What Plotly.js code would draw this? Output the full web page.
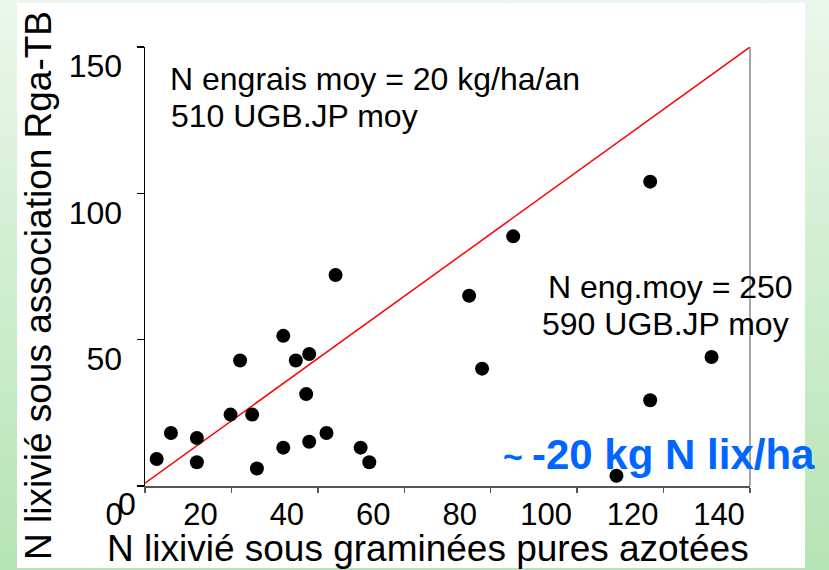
<!DOCTYPE html>
<html>
<head>
<meta charset="utf-8">
<script src="https://cdn.plot.ly/plotly-3.0.1.min.js"></script>
<style>
  html, body { margin: 0; padding: 0; }
  body {
    width: 829px; height: 570px; overflow: hidden; position: relative;
    background: linear-gradient(to bottom, #ecf7ec 0%, #d2eed2 45%, #b6e4b6 100%);
  }
  #panel { position: absolute; left: 17px; top: 3px; width: 788px; height: 565px; background: #ffffff; }
  #chart { position: absolute; left: 0; top: 0; width: 829px; height: 570px; }
</style>
</head>
<body>
<div id="panel"></div>
<div id="chart"></div>
<script>
// Data
const nGraminees = [2.7, 6.0, 12.0, 12.0, 19.8, 22.0, 24.8, 25.9, 32.0, 32.0, 34.9, 37.3, 38.0, 38.0, 42.0, 44.1, 49.9, 51.9, 75.0, 78.0, 85.2, 109.1, 116.9, 116.9, 131.1];
const nAssociation = [9.2, 18.1, 16.4, 8.1, 24.4, 42.9, 24.4, 6.0, 51.3, 13.1, 42.9, 31.4, 45.1, 15.1, 18.1, 72.1, 13.1, 8.1, 65.0, 40.1, 85.3, 3.5, 104.0, 29.3, 44.1];
const refLineX = [0, 140];
const refLineY = [1, 150];
const xTicks = [0, 20, 40, 60, 80, 100, 120, 140];
const yTicks = [0, 50, 100, 150];
const yTickText = ['', '50', '100', '150'];   // the "0" of the y axis is drawn as a separate label

const FONT = 'Liberation Sans, Arial, sans-serif';
const L = 145, R = 750, T = 47, B = 486, W = 829, H = 570;
const px = p => (p - L) / (R - L);
const py = p => (B - p) / (B - T);

const traces = [
  { x: refLineX, y: refLineY, type: 'scatter', mode: 'lines',
    line: { color: '#ff0000', width: 1.5 }, hoverinfo: 'skip', showlegend: false },
  { x: nGraminees, y: nAssociation, type: 'scatter', mode: 'markers',
    marker: { color: '#000000', size: 14, symbol: 'circle' }, showlegend: false }
];

const ann = (text, x, y, xa, ya, size, extra) => Object.assign({
  text: text, xref: 'paper', yref: 'paper', x: px(x), y: py(y),
  xanchor: xa, yanchor: ya, showarrow: false,
  font: { family: FONT, size: size, color: '#000000' }
}, extra || {});

const layout = {
  width: W, height: H,
  margin: { l: L, r: W - R, t: T, b: H - B, pad: 0 },
  paper_bgcolor: 'rgba(0,0,0,0)',
  plot_bgcolor: '#ffffff',
  showlegend: false,
  xaxis: {
    range: [0, 140], tickvals: xTicks, ticktext: xTicks.map(String),
    showgrid: false, zeroline: false, showline: true, linecolor: '#555555', linewidth: 1.5,
    ticks: 'outside', ticklen: 5, tickcolor: '#555555', tickwidth: 1.5,
    tickfont: { family: FONT, size: 31, color: '#000000' },
    ticklabelshift: -31, ticklabelstandoff: -5, fixedrange: true
  },
  yaxis: {
    range: [0, 150], tickvals: yTicks, ticktext: yTickText,
    showgrid: false, zeroline: false, showline: true, linecolor: '#000000', linewidth: 1.5,
    ticks: 'outside', ticklen: 7, tickcolor: '#000000', tickwidth: 1.2,
    tickfont: { family: FONT, size: 32, color: '#000000' },
    ticklabelshift: 19, ticklabelstandoff: 8, fixedrange: true
  },
  shapes: [
    { type: 'line', xref: 'paper', yref: 'paper', x0: 1, x1: 1, y0: 0, y1: 1,
      line: { color: '#8a8a8a', width: 1.5 } }
  ],
  annotations: [
    ann('0', 127, 504, 'center', 'middle', 32),
    ann('N engrais moy = 20 kg/ha/an', 168, 79, 'left', 'middle', 32),
    ann('510 UGB.JP moy', 169, 116, 'left', 'middle', 32),
    ann('N eng.moy = 250', 795, 287, 'right', 'middle', 32),
    ann('590 UGB.JP moy', 791, 324, 'right', 'middle', 32),
    ann('<b>-20 kg N lix/ha</b>', 530, 454, 'left', 'middle', 42,
        { font: { family: FONT, size: 42, color: '#0066ff' } }),
    ann('<b>~</b>', 513, 456, 'center', 'middle', 34,
        { font: { family: FONT, size: 34, color: '#0066ff' } }),
    ann('N lixivié sous graminées pures azotées', 428, 548, 'center', 'middle', 37),
    ann('N lixivié sous association Rga-TB', 38, 286, 'center', 'middle', 37, { textangle: -90 })
  ]
};

Plotly.newPlot('chart', traces, layout, { displayModeBar: false, staticPlot: true });
</script>
</body>
</html>
